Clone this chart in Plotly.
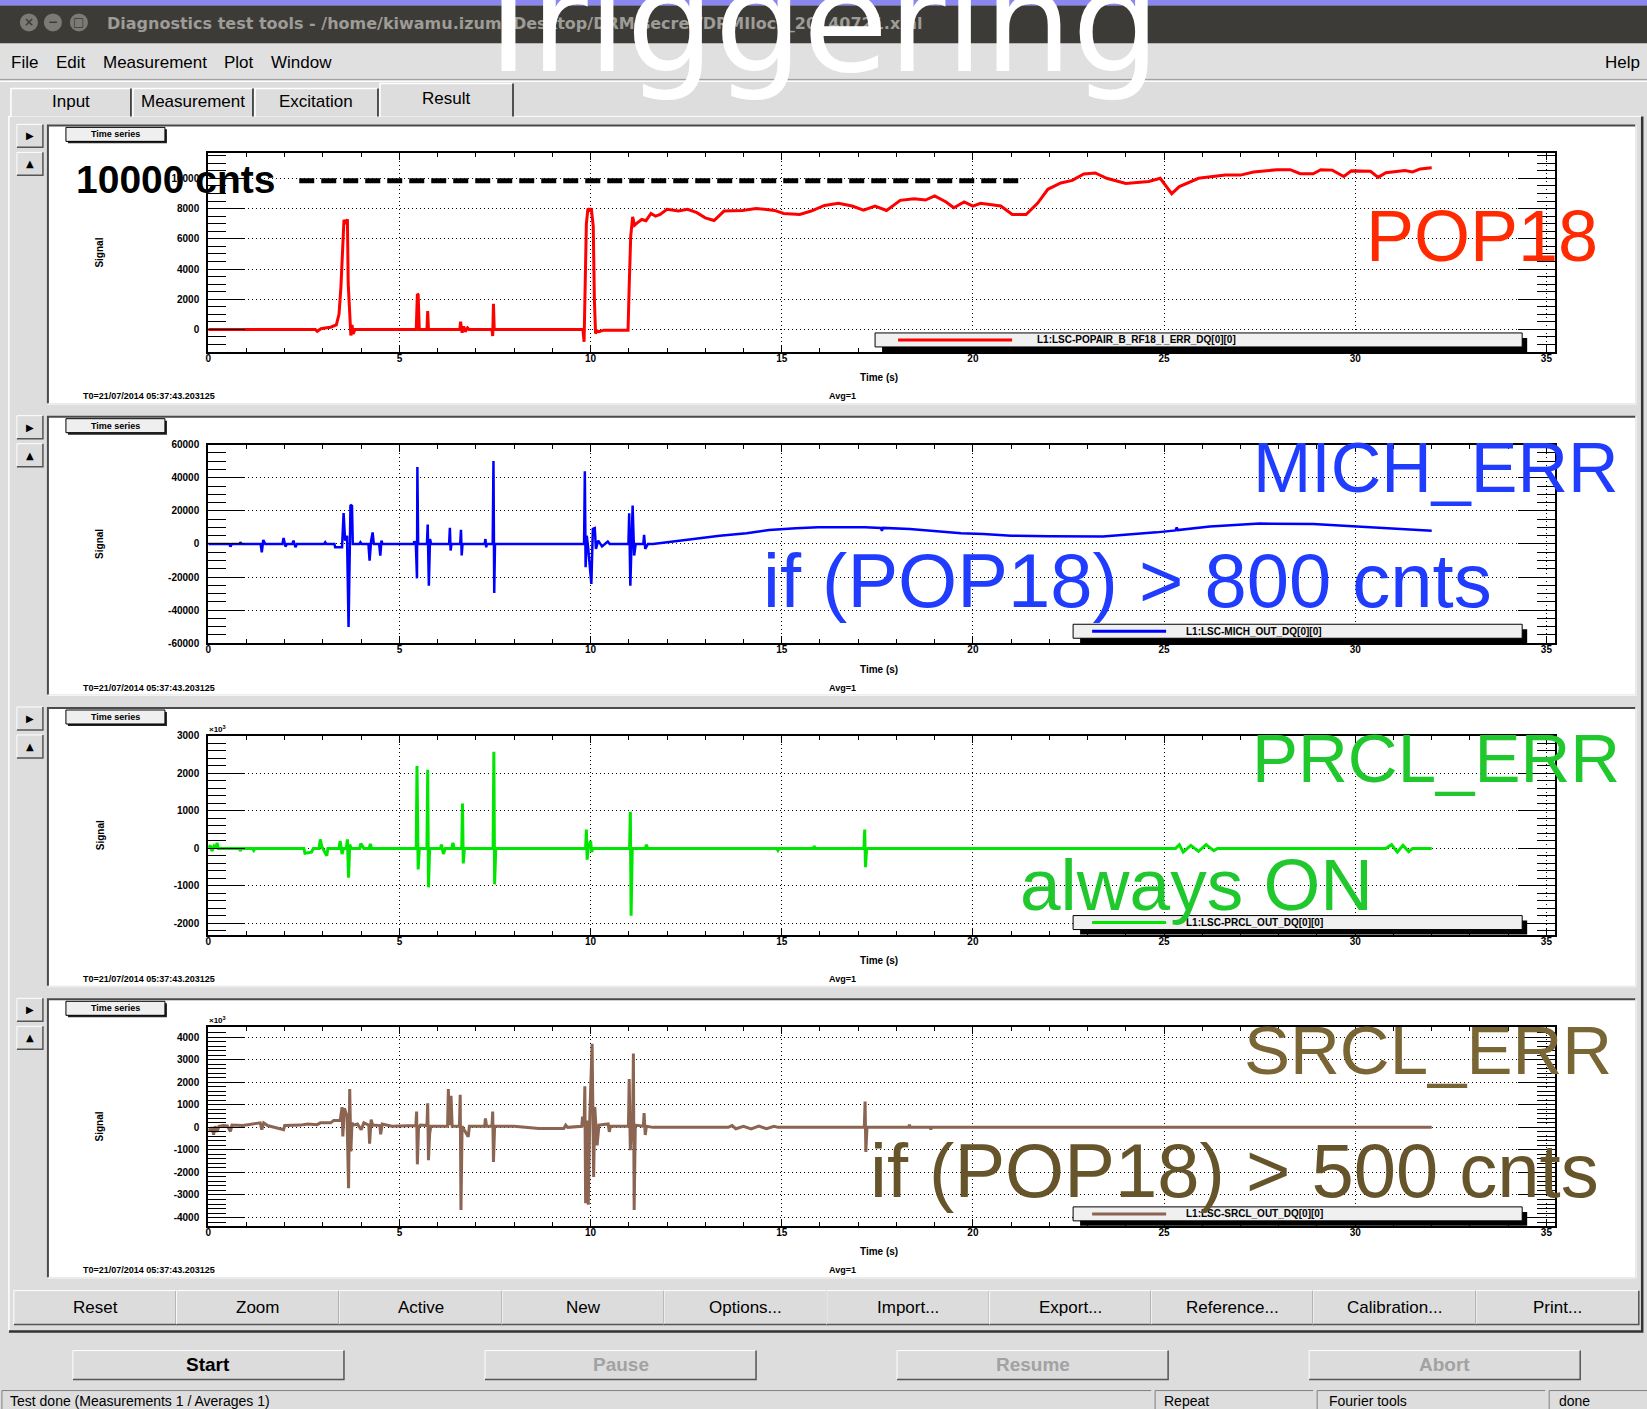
import plotly.graph_objects as go

W, H = 1647, 1409

# ---------------- data (time in s, signal in counts as displayed) ----------------
pop18_t = [0.00, 2.80, 2.85, 2.90, 2.95, 3.05, 3.20, 3.35, 3.42, 3.47, 3.51, 3.55, 3.60, 3.64, 3.66, 3.70, 3.73, 3.76, 3.79, 3.84,
           5.44, 5.47, 5.49, 5.52, 5.72, 5.74, 5.76, 6.58, 6.60, 6.64, 6.68, 6.72, 6.78, 6.82, 7.42, 7.44, 7.46, 7.48,
           9.80, 9.83, 9.86, 9.89, 9.93, 9.97, 10.02, 10.07, 10.10, 10.13, 10.17, 10.22, 10.35, 10.98,
           11.01, 11.05, 11.10, 11.15, 11.22, 11.34, 11.45, 11.58, 11.70, 11.82, 12.00, 12.30, 12.54, 12.78, 13.00, 13.23, 13.49, 13.97, 14.33, 14.81,
           15.05, 15.47, 15.77, 16.12, 16.48, 16.84, 17.14, 17.44, 17.74, 18.10, 18.46, 18.76, 19.00, 19.30, 19.50, 19.77, 20.00, 20.20, 20.73,
           21.03, 21.39, 21.69, 21.96, 22.30, 22.60, 22.90, 23.20, 23.50, 24.00, 24.60, 24.90, 25.20, 25.40, 25.90, 26.60,
           27.00, 27.34, 27.95, 28.30, 28.56, 28.90, 29.10, 29.40, 29.70, 29.90, 30.40, 30.60, 30.80, 31.30, 31.50, 31.70, 32.00]
pop18_v = [0, 0, -120, -60, 50, 100, 150, 300, 1000, 2800, 5150, 7260, 7000, 7300, 3080, 620, -400, 300, -300, 0,
           0, 2350, 2300, 0, 0, 1220, 0, 0, 510, -220, 200, -150, 100, 0, 0, -440, 1690, 0,
           0, -820, 4400, 7000, 8000, 7900, 8000, 6840, 1950, -270, -100, -150, -50, -50,
           2840, 6170, 7460, 6900, 7060, 7280, 7200, 7680, 7500, 7610, 7950, 7840, 7950, 7730, 7390, 7215, 7840, 7880, 8010, 7880,
           7680, 7610, 7840, 8210, 8350, 8170, 7900, 8170, 7880, 8550, 8660, 8570, 8840, 8440, 8060, 8440, 8170, 8350, 8170,
           7610, 7610, 8350, 9280, 9700, 9870, 10290, 10360, 10010, 9670, 9800, 10010, 8990, 9460, 10010, 10220,
           10220, 10420, 10580, 10580, 10310, 10310, 10580, 10550, 10130, 10500, 10470, 10070, 10380, 10530, 10430, 10630, 10700]

threshold_t = [2.38, 21.2]
threshold_v = [9850, 9850]

mich_t = [0.00, 0.55, 0.58, 0.62, 0.82, 0.84, 0.87, 1.37, 1.40, 1.44,
          1.49, 1.94, 1.97, 2.02, 2.06, 2.20, 2.23, 2.28, 2.32, 3.03,
          3.06, 3.09, 3.30, 3.32, 3.50, 3.54, 3.58, 3.63, 3.67, 3.70,
          3.72, 3.76, 3.78, 3.95, 3.98, 4.01, 4.19, 4.22, 4.26, 4.30,
          4.33, 4.47, 4.50, 4.53, 4.56, 5.37, 5.39, 5.43, 5.46, 5.47,
          5.49, 5.72, 5.74, 5.77, 5.80, 5.83, 6.30, 6.32, 6.34, 6.36,
          6.59, 6.61, 6.63, 6.65, 7.23, 7.25, 7.27, 7.29, 7.44, 7.46,
          7.48, 7.50, 9.83, 9.85, 9.87, 9.90, 9.94, 10.02, 10.06, 10.11,
          10.14, 10.20, 10.30, 10.45, 10.50, 10.99, 11.01, 11.04, 11.07, 11.10,
          11.14, 11.18, 11.38, 11.40, 11.43, 11.50, 11.63, 11.98, 12.68, 13.38,
          14.08, 14.67, 15.37, 15.95, 17.18, 17.59, 17.62, 17.65, 18.35, 18.99,
          19.69, 20.27, 21.00, 22.00, 23.40, 24.80, 25.30, 25.33, 25.36, 26.20,
          27.50, 28.90, 30.30, 32.00]
mich_v = [0, 0, -1600, 0, 0, 1000, 0, 0, -5000, 2400,
          0, 0, 3600, -1600, 0, 0, 2000, -2000, 0, 0,
          1000, 0, 0, -2000, -2000, 18600, 2000, 5000, -50100, 0,
          23600, 23000, 0, 0, 1000, 0, 0, -10100, 2000, 7000,
          0, 0, -7000, 2000, 0, 0, 1500, 0, -20800, 46500,
          0, 0, 11700, -25200, 3000, 0, 0, 9700, -4000, 0,
          0, 8500, -7000, 0, 0, 3000, -2000, 0, 0, 50100,
          -29700, 0, 0, 44000, -14100, 5000, -3000, -24200, 9100, 9600,
          -3000, 2000, -1500, 1500, 0, 0, 18600, -25200, 0, 23200,
          -7000, 0, 0, 5500, -3000, 0, 0, 1000, 3000, 5000,
          6500, 8500, 9500, 10100, 10100, 9700, 8000, 9700, 9100, 7700,
          6500, 6000, 5000, 4600, 4500, 7000, 8200, 10000, 8400, 10500,
          12300, 12000, 10200, 8000]

prcl_t = [0.00, 0.05, 0.10, 0.15, 0.20, 0.23, 0.26, 0.81, 0.84, 0.87,
          1.16, 1.19, 1.22, 2.50, 2.53, 2.70, 2.75, 2.90, 2.93, 2.97,
          3.10, 3.13, 3.42, 3.45, 3.50, 3.54, 3.61, 3.64, 3.67, 3.70,
          3.74, 3.96, 3.99, 4.07, 4.21, 4.24, 4.27, 5.44, 5.46, 5.49,
          5.52, 5.72, 5.74, 5.76, 5.79, 6.07, 6.10, 6.15, 6.20, 6.37,
          6.40, 6.43, 6.63, 6.65, 6.67, 6.70, 7.45, 7.47, 7.49, 7.52,
          9.87, 9.89, 9.91, 9.94, 10.00, 10.03, 10.06, 11.02, 11.04, 11.06,
          11.09, 11.43, 11.46, 11.49, 14.87, 14.90, 14.93, 15.82, 15.85, 15.88,
          17.15, 17.17, 17.19, 17.22, 25.30, 25.40, 25.50, 25.70, 25.90, 26.10,
          26.30, 26.40, 30.80, 30.95, 31.10, 31.25, 31.40, 31.50, 32.00]
prcl_v = [0, 80, -70, 60, 0, 150, 0, 0, -70, 0,
          0, -50, 0, 0, -130, -100, 0, 0, 240, 50,
          -200, 0, 0, 200, -150, 0, 0, 240, -780, 100,
          0, 0, 130, 0, 0, 120, 0, 0, 2200, -560,
          0, 0, 2100, -1040, 0, 0, 100, -150, 0, 0,
          150, 0, 0, 1200, -400, 0, 0, 2580, -960, 0,
          0, 500, -300, 0, 200, -100, 0, 0, 980, -1800,
          0, 0, 100, 0, 0, -50, 0, 0, 60, 0,
          0, 500, -500, 0, 0, 100, -100, 80, -80, 100,
          -60, 0, 0, 100, -100, 80, -90, 0, 0]

srcl_t = [0.00, 0.05, 0.10, 0.14, 0.18, 0.23, 0.28, 0.40, 0.50, 0.58,
          0.62, 0.84, 0.90, 1.36, 1.40, 1.45, 1.55, 1.97, 2.00, 2.41,
          2.60, 2.85, 2.93, 3.20, 3.28, 3.45, 3.50, 3.52, 3.56, 3.63,
          3.67, 3.70, 3.73, 3.76, 3.80, 3.90, 4.00, 4.07, 4.20, 4.22,
          4.26, 4.30, 4.49, 4.51, 4.55, 4.80, 5.43, 5.45, 5.47, 5.50,
          5.55, 5.72, 5.74, 5.76, 5.79, 5.82, 6.26, 6.28, 6.30, 6.35,
          6.38, 6.57, 6.59, 6.61, 6.64, 6.80, 6.83, 7.23, 7.25, 7.28,
          7.42, 7.44, 7.46, 7.49, 8.00, 8.65, 9.30, 9.35, 9.40, 9.77,
          9.79, 9.83, 9.85, 9.87, 9.90, 9.94, 9.98, 10.04, 10.08, 10.11,
          10.17, 10.22, 10.46, 10.49, 10.52, 10.99, 11.01, 11.04, 11.07, 11.10,
          11.12, 11.14, 11.17, 11.38, 11.40, 11.43, 11.46, 11.63, 13.60, 13.70,
          13.80, 14.00, 14.20, 14.40, 14.60, 14.80, 14.90, 17.16, 17.18, 17.20,
          17.23, 18.32, 18.34, 18.36, 18.88, 18.90, 18.92, 32.00]
srcl_v = [-100, -100, 0, -330, 50, -200, 50, 80, 60, -180,
          100, 100, 80, 200, -100, 200, 80, -100, 80, 100,
          150, 120, 200, 200, 300, 300, 900, -400, 850, 500,
          -2700, 1700, -1070, 200, 100, 150, -100, 200, 100, -720,
          340, 100, 80, -310, 150, 50, 80, 700, -1640, 0,
          100, 80, 1070, -1460, -300, 50, 50, 1700, 100, 1400,
          50, 50, 1450, -3670, 50, -420, 50, 50, 400, 50,
          50, 700, -1530, 50, 50, -50, -50, 100, 0, 50,
          480, 50, 1820, -3370, 300, -3430, 500, 3710, -2200, 900,
          -800, 100, 150, -200, 50, 50, 2150, -1010, 100, 100,
          3280, -3670, 100, 50, 630, -340, 50, 0, 0, 80,
          -60, 50, -70, 60, -60, 50, 0, 0, 1150, -1090,
          0, 0, 120, 0, 0, -100, 0, 0]

x_ticks = [0, 5, 10, 15, 20, 25, 30, 35]
x_labels = ["0", "5", "10", "15", "20", "25", "30", "35"]
p1_ticks = [0, 2000, 4000, 6000, 8000, 10000]
p1_labels = ["0", "2000", "4000", "6000", "8000", "10000"]
p2_ticks = [-60000, -40000, -20000, 0, 20000, 40000, 60000]
p2_labels = ["-60000", "-40000", "-20000", "0", "20000", "40000", "60000"]
p3_ticks = [-2000, -1000, 0, 1000, 2000, 3000]
p3_labels = ["-2000", "-1000", "0", "1000", "2000", "3000"]
p4_ticks = [-4000, -3000, -2000, -1000, 0, 1000, 2000, 3000, 4000]
p4_labels = ["-4000", "-3000", "-2000", "-1000", "0", "1000", "2000", "3000", "4000"]

channels = ["L1:LSC-POPAIR_B_RF18_I_ERR_DQ[0][0]", "L1:LSC-MICH_OUT_DQ[0][0]",
            "L1:LSC-PRCL_OUT_DQ[0][0]", "L1:LSC-SRCL_OUT_DQ[0][0]"]
t0_text = "T0=21/07/2014 05:37:43.203125"

# ---------------- helpers for window chrome (pixel -> paper) ----------------
shapes = []
annotations = []
SANS = "Liberation Sans"


def X(x):
    return (1547 + (x - 1547) * 1.002) / W


def Y(y):
    return 1 - (704 + (y - 704) * 1.0065) / H


def rect(x0, y0, x1, y1, fill, line=None, lw=0, layer="below"):
    shapes.append(dict(type="rect", xref="paper", yref="paper", x0=X(x0), x1=X(x1), y0=Y(y1), y1=Y(y0),
                       fillcolor=fill, line=dict(color=line if line else "rgba(0,0,0,0)", width=lw if line else 0),
                       layer=layer))


def path(pts, color, lw=1, layer="below"):
    d = "M" + " L".join("%.6f,%.6f" % (X(a), Y(b)) for a, b in pts)
    shapes.append(dict(type="path", xref="paper", yref="paper", path=d, line=dict(color=color, width=lw), layer=layer))


def bevel(x0, y0, x1, y1, fill="#dcdcdc", raised=True, layer="below"):
    rect(x0, y0, x1, y1, fill, layer=layer)
    light, dark = ("#ffffff", "#555555") if raised else ("#707070", "#ffffff")
    path([(x0, y1), (x0, y0), (x1, y0)], light, 1, layer)
    path([(x0, y1), (x1, y1), (x1, y0)], dark, 1.5, layer)


def text(x, y, s, size=12, color="black", xanchor="center", weight="normal", family=SANS, angle=0, yanchor="middle"):
    annotations.append(dict(x=X(x), y=Y(y), xref="paper", yref="paper", text=s, showarrow=False,
                            xanchor=xanchor, yanchor=yanchor, textangle=angle,
                            font=dict(family=family, size=size, color=color, weight=weight)))


BG = "#dddddd"

# title bar
rect(-10, -10, 1660, 5, "#8a86f2")
rect(-10, 5, 1660, 43, "#3c3b37")
for cx, sym in [(29, "×"), (53, "−"), (79, "□")]:
    shapes.append(dict(type="circle", xref="paper", yref="paper", x0=X(cx - 9), x1=X(cx + 9), y0=Y(22 + 9), y1=Y(22 - 9),
                       fillcolor="#7b7a75", line=dict(width=0), layer="below"))
    text(cx, 22, sym, 12, "#3c3b37", family="DejaVu Sans", weight="bold")
text(105, 23, "Diagnostics test tools - /home/kiwamu.izumi/Desktop/DRMIsecret/DRMIlock_20140721.xml",
     16, "#9e9c96", xanchor="left", family="DejaVu Sans", weight="bold")

# menu bar
rect(-10, 43, 1660, 79, "#e0e0e0")
path([(-10, 79), (1660, 79)], "#9a9a9a", 1)
path([(-10, 81), (1660, 81)], "#ffffff", 1)
for mx, lab in [(9, "File"), (54, "Edit"), (101, "Measurement"), (222, "Plot"), (269, "Window")]:
    text(mx, 62, lab, 17, xanchor="left")
text(1642, 62, "Help", 17, xanchor="right")

# tabs
path([(8, 116), (1641, 116)], "#ffffff", 1)
for (a, b, lab, top, ty) in [(11, 131, "Input", 88, 101), (133, 253, "Measurement", 88, 101),
                             (255, 378, "Excitation", 88, 101), (380, 513, "Result", 83, 98)]:
    rect(a, top, b, 116, BG)
    path([(a, 116), (a, top), (b, top)], "#ffffff", 1.5)
    path([(b, top), (b, 116)], "#222222", 1.5)
    text((a + b) / 2, ty, lab, 17)

# main content frame
path([(9, 116), (9, 1332)], "#ffffff", 1.5)
path([(9, 1332), (1642, 1332), (1642, 116)], "#333333", 2.5)

# ---------------- panels ----------------
canvas_top = [125, 416.5, 708, 999.5]
panels = [
    dict(t=pop18_t, v=pop18_v, color="#ff0000", width=3, yr=[-1490, 11660], ticks=p1_ticks, labels=p1_labels, minor=500),
    dict(t=mich_t, v=mich_v, color="#0000ff", width=2.5, yr=[-60000, 60000], ticks=p2_ticks, labels=p2_labels, minor=5000),
    dict(t=prcl_t, v=prcl_v, color="#00e600", width=3, yr=[-2300, 3000], ticks=p3_ticks, labels=p3_labels, minor=200),
    dict(t=srcl_t, v=srcl_v, color="#8c6452", width=3, yr=[-4370, 4440], ticks=p4_ticks, labels=p4_labels, minor=200),
]

fig = go.Figure()
tick_font = dict(family=SANS, size=10, color="black", weight="bold")
PX0, PX1 = 208.3, 1555.0
legend_x0 = [875, 1073, 1073, 1073]
legend_line = [(898, 1012), (1092, 1166), (1092, 1166), (1092, 1166)]
legend_text_x = [1035, 1184, 1184, 1184]

layout_axes = {}
for i, p in enumerate(panels):
    n = "" if i == 0 else str(i + 1)
    ct = canvas_top[i]
    pt, pb = ct + 28, ct + 226.7

    # canvas and its chrome
    rect(48, ct, 1635, ct + 278, "#ffffff")
    path([(48, ct + 278), (48, ct), (1635, ct)], "#4a4a4a", 2)
    path([(48, ct + 279), (1636, ct + 279), (1636, ct)], "#f4f4f4", 1)
    bevel(17, ct - 1, 43, ct + 22)
    text(30, ct + 10.5, "▶", 10, family="DejaVu Sans")
    bevel(17, ct + 27, 43, ct + 50)
    text(30, ct + 38.5, "▲", 10, family="DejaVu Sans")
    rect(68, ct + 4, 167, ct + 18, "#222222")
    rect(66, ct + 2, 165, ct + 16, "#efefef", "#000000", 1)
    text(115.5, ct + 9, "Time series", 9, weight="bold")
    text(100, (pt + pb) / 2, "Signal", 10, weight="bold", angle=-90)
    text(879, pb + 26, "Time (s)", 10, weight="bold")
    text(81, ct + 271, t0_text, 9, weight="bold", xanchor="left")
    text(827, ct + 271, "Avg=1", 9, weight="bold", xanchor="left")
    if i >= 2:
        text(207, pt - 7, "×10<sup>3</sup>", 8, weight="bold", xanchor="left")

    # ROOT-style legend box with shadow
    lx = legend_x0[i]
    rect(lx + 7, pb - 14, 1527, pb, "#000000", layer="above")
    rect(lx, pb - 19, 1522, pb - 5, "#f0f0f0", "#000000", 1, layer="above")
    path([(legend_line[i][0], pb - 12), (legend_line[i][1], pb - 12)], p["color"], 3, layer="above")
    text(legend_text_x[i], pb - 12, channels[i], 10, weight="bold", xanchor="left")

    fig.add_trace(go.Scatter(x=p["t"], y=p["v"], mode="lines", line=dict(color=p["color"], width=p["width"]),
                             xaxis="x" + n, yaxis="y" + n, showlegend=False, hoverinfo="skip"))

    layout_axes["xaxis" + n] = dict(
        domain=[X(PX0), X(PX1)], range=[0, 35.23], anchor="y" + n, tickmode="array", tickvals=x_ticks,
        ticktext=x_labels, ticks="inside", ticklen=7, tickwidth=1, tickcolor="black",
        minor=dict(tickmode="linear", tick0=0, dtick=1, ticks="inside", ticklen=4, tickcolor="black", showgrid=False),
        showgrid=True, gridcolor="black", gridwidth=1, griddash="1px,3px", showline=True, linecolor="black",
        linewidth=2, mirror="ticks", zeroline=False, tickfont=tick_font, ticklabelstandoff=-4, fixedrange=True)
    layout_axes["yaxis" + n] = dict(
        domain=[Y(pb), Y(pt)], range=p["yr"], anchor="x" + n, tickmode="array", tickvals=p["ticks"],
        ticktext=p["labels"], ticks="inside", ticklen=37, tickwidth=1, tickcolor="black",
        minor=dict(tickmode="linear", tick0=0, dtick=p["minor"], ticks="inside", ticklen=18, tickcolor="black",
                   showgrid=False),
        showgrid=True, gridcolor="black", gridwidth=1, griddash="1px,3px", showline=True, linecolor="black",
        linewidth=2, mirror="ticks", zeroline=False, tickfont=tick_font, ticklabelstandoff=5, fixedrange=True)

# 10000-count trigger level (dashed)
fig.add_trace(go.Scatter(x=threshold_t, y=threshold_v, mode="lines", xaxis="x", yaxis="y",
                         line=dict(color="black", width=5, dash="15px,7px"), showlegend=False, hoverinfo="skip"))

# ---------------- bottom buttons ----------------
btn_edges = [14, 176.5, 339.3, 502, 664, 826.7, 989.5, 1151.2, 1313, 1476, 1638.6]
btn_labels = ["Reset", "Zoom", "Active", "New", "Options...", "Import...", "Export...", "Reference...",
              "Calibration...", "Print..."]
for k, lab in enumerate(btn_labels):
    a, b = btn_edges[k], btn_edges[k + 1]
    bevel(a, 1291, b, 1325)
    text((a + b) / 2, 1308, lab, 17)

for (a, b, lab, col) in [(73, 344, "Start", "#000000"), (485, 756, "Pause", "#a2a2a2"),
                         (897, 1168, "Resume", "#a2a2a2"), (1309, 1580, "Abort", "#a2a2a2")]:
    bevel(a, 1351, b, 1380)
    text((a + b) / 2, 1365, lab, 19, col, weight="bold")

# status bar
for (a, b) in [(2, 1151), (1155, 1313), (1317, 1545), (1549, 1660)]:
    rect(a, 1391, b, 1420, BG)
    path([(a, 1420), (a, 1391), (b, 1391)], "#808080", 1)
text(8, 1401, "Test done (Measurements 1 / Averages 1)", 14, xanchor="left")
text(1162, 1401, "Repeat", 14, xanchor="left")
text(1327, 1401, "Fourier tools", 14, xanchor="left")
text(1557, 1401, "done", 14, xanchor="left")

# ---------------- overlaid slide annotations ----------------
text(812, 23, "Triggering", 139, "#ffffff", family="DejaVu Sans")
text(176, 179, "10000 cnts", 39, "#000000", weight="bold")
text(1482, 236, "POP18", 72, "#ff2a00")
text(1436, 468, "MICH_ERR", 70, "#1f3cff")
text(1127, 580, "if (POP18) > 800 cnts", 76, "#1f3cff")
text(1436, 759, "PRCL_ERR", 69, "#20c82e")
text(1196, 885, "always ON", 73, "#20c82e")
text(1428, 1051, "SRCL_ERR", 69, "#7a6634")
text(1234, 1171, "if (POP18) > 500 cnts", 76, "#66542a")

fig.update_layout(
    width=W, height=H, margin=dict(l=0, r=0, t=0, b=0),
    paper_bgcolor=BG, plot_bgcolor="rgba(0,0,0,0)",
    showlegend=False, hovermode=False,
    font=dict(family=SANS, color="black"),
    shapes=shapes, annotations=annotations,
    **layout_axes,
)

fig.write_html("out.html", config={"displayModeBar": False})
